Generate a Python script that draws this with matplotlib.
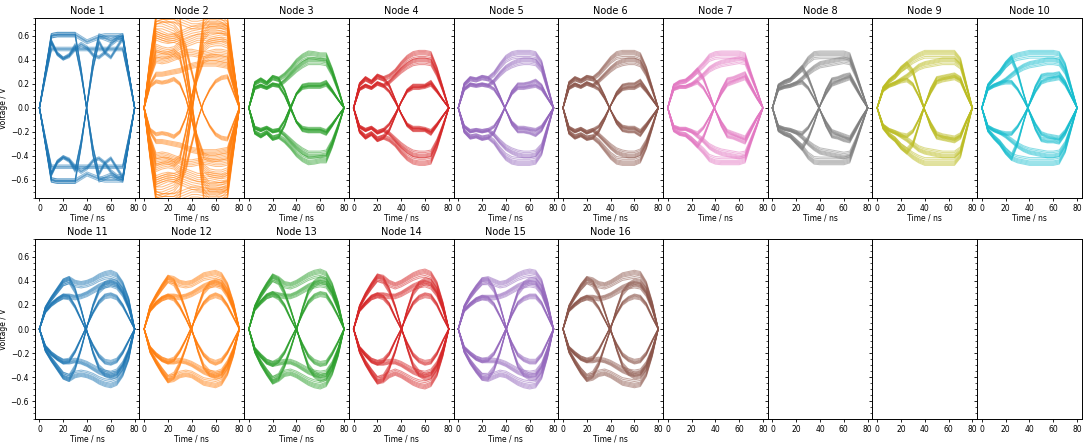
import numpy as np
import matplotlib
matplotlib.use("Agg")
import matplotlib.pyplot as plt
from matplotlib.ticker import AutoMinorLocator

# sample times of the traces (ns)
t_ns = [0, 5, 10, 15, 20, 25, 30, 35, 40, 45, 50, 55, 60, 65, 70, 75, 80]

# traces that start on a "1" (voltages at t_ns); the "0" traces are their mirror
node01 = [
    [0, 0.30, 0.60, 0.61, 0.61, 0.61, 0.61, 0.58, 0.55, 0.57, 0.59, 0.60, 0.60, 0.60, 0.60, 0.30, 0],
    [0, 0.28, 0.55, 0.45, 0.41, 0.43, 0.49, 0.53, 0.50, 0.44, 0.42, 0.46, 0.53, 0.57, 0.58, 0.29, 0],
    [0, 0.25, 0.49, 0.49, 0.49, 0.49, 0.49, 0.49, 0.49, 0.49, 0.49, 0.49, 0.49, 0.49, 0.49, 0.25, 0],
    [0, 0.30, 0.60, 0.61, 0.61, 0.61, 0.61, 0.32, -0.03, -0.39, -0.60, -0.58, -0.56, -0.58, -0.60, -0.30, 0],
    [0, 0.28, 0.55, 0.45, 0.41, 0.44, 0.52, 0.28, -0.02, -0.33, -0.55, -0.46, -0.42, -0.50, -0.58, -0.29, 0],
]
node02 = [
    [0, 0.40, 0.74, 0.76, 0.76, 0.76, 0.74, 0.72, 0.70, 0.70, 0.71, 0.72, 0.72, 0.71, 0.70, 0.35, 0],
    [0, 0.35, 0.62, 0.60, 0.58, 0.58, 0.60, 0.62, 0.64, 0.65, 0.66, 0.67, 0.67, 0.66, 0.64, 0.32, 0],
    [0, 0.30, 0.50, 0.48, 0.47, 0.48, 0.52, 0.54, 0.56, 0.58, 0.58, 0.57, 0.58, 0.59, 0.58, 0.30, 0],
    [0, 0.25, 0.40, 0.39, 0.40, 0.42, 0.44, 0.46, 0.46, 0.45, 0.44, 0.45, 0.46, 0.46, 0.45, 0.22, 0],
    [0, 0.20, 0.28, 0.28, 0.29, 0.30, 0.31, 0.33, 0.35, 0.36, 0.37, 0.37, 0.37, 0.36, 0.35, 0.18, 0],
    [0, 0.40, 0.74, 0.76, 0.76, 0.76, 0.72, 0.40, 0.05, -0.30, -0.60, -0.66, -0.66, -0.66, -0.65, -0.33, 0],
    [0, 0.33, 0.60, 0.58, 0.57, 0.58, 0.56, 0.30, 0.00, -0.30, -0.50, -0.54, -0.55, -0.55, -0.53, -0.27, 0],
    [0, 0.28, 0.45, 0.44, 0.44, 0.46, 0.42, 0.20, -0.08, -0.35, -0.72, -0.78, -0.78, -0.76, -0.72, -0.36, 0],
    [0, 0.18, 0.22, 0.21, 0.22, 0.24, 0.20, 0.08, -0.10, -0.25, -0.40, -0.42, -0.42, -0.41, -0.40, -0.20, 0],
    [0, 0.38, 0.70, 0.70, 0.68, 0.66, 0.60, 0.50, 0.30, 0.10, -0.05, -0.15, -0.22, -0.25, -0.26, -0.13, 0],
]
node03 = [
    [0, 0.21, 0.24, 0.21, 0.26, 0.245, 0.28, 0.33, 0.39, 0.43, 0.455, 0.45, 0.44, 0.44, 0.32, 0.17, 0],
    [0, 0.17, 0.19, 0.17, 0.20, 0.19, 0.23, 0.28, 0.33, 0.37, 0.40, 0.40, 0.40, 0.39, 0.29, 0.15, 0],
    [0, 0.21, 0.24, 0.21, 0.26, 0.245, 0.15, 0.01, -0.12, -0.19, -0.20, -0.20, -0.20, -0.22, -0.15, -0.07, 0],
    [0, 0.17, 0.19, 0.17, 0.20, 0.19, 0.11, -0.01, -0.12, -0.17, -0.18, -0.18, -0.18, -0.20, -0.14, -0.07, 0],
]
node04 = [
    [0, 0.20, 0.25, 0.22, 0.27, 0.25, 0.27, 0.31, 0.37, 0.42, 0.45, 0.46, 0.46, 0.45, 0.33, 0.17, 0],
    [0, 0.16, 0.19, 0.17, 0.21, 0.19, 0.22, 0.27, 0.32, 0.36, 0.39, 0.40, 0.40, 0.39, 0.29, 0.15, 0],
    [0, 0.20, 0.25, 0.22, 0.27, 0.25, 0.19, 0.07, -0.05, -0.15, -0.19, -0.19, -0.19, -0.22, -0.15, -0.07, 0],
    [0, 0.16, 0.19, 0.17, 0.21, 0.19, 0.14, 0.05, -0.05, -0.14, -0.17, -0.17, -0.18, -0.20, -0.14, -0.07, 0],
]
node05 = [
    [0, 0.20, 0.25, 0.24, 0.26, 0.25, 0.29, 0.36, 0.42, 0.45, 0.46, 0.46, 0.46, 0.45, 0.38, 0.19, 0],
    [0, 0.16, 0.20, 0.19, 0.20, 0.19, 0.23, 0.29, 0.34, 0.37, 0.39, 0.40, 0.40, 0.39, 0.33, 0.16, 0],
    [0, 0.20, 0.25, 0.24, 0.26, 0.25, 0.21, 0.10, -0.02, -0.14, -0.20, -0.20, -0.21, -0.23, -0.19, -0.09, 0],
    [0, 0.16, 0.20, 0.19, 0.20, 0.19, 0.16, 0.08, -0.02, -0.12, -0.17, -0.17, -0.18, -0.19, -0.16, -0.08, 0],
]
node06 = [
    [0, 0.21, 0.25, 0.23, 0.26, 0.25, 0.29, 0.35, 0.41, 0.45, 0.46, 0.46, 0.46, 0.44, 0.33, 0.17, 0],
    [0, 0.17, 0.20, 0.18, 0.21, 0.19, 0.23, 0.28, 0.33, 0.37, 0.39, 0.40, 0.40, 0.38, 0.29, 0.15, 0],
    [0, 0.21, 0.25, 0.23, 0.26, 0.25, 0.20, 0.10, -0.02, -0.13, -0.19, -0.20, -0.20, -0.23, -0.16, -0.08, 0],
    [0, 0.17, 0.20, 0.18, 0.21, 0.19, 0.16, 0.08, -0.02, -0.11, -0.16, -0.17, -0.17, -0.20, -0.14, -0.07, 0],
]
node07 = [
    [0, 0.19, 0.22, 0.23, 0.27, 0.32, 0.37, 0.43, 0.45, 0.455, 0.455, 0.455, 0.455, 0.44, 0.29, 0.15, 0],
    [0, 0.16, 0.18, 0.18, 0.20, 0.24, 0.28, 0.33, 0.36, 0.38, 0.39, 0.40, 0.41, 0.40, 0.27, 0.14, 0],
    [0, 0.19, 0.22, 0.23, 0.27, 0.32, 0.25, 0.12, -0.02, -0.15, -0.24, -0.25, -0.27, -0.29, -0.19, -0.09, 0],
    [0, 0.16, 0.18, 0.18, 0.20, 0.22, 0.17, 0.08, -0.02, -0.12, -0.20, -0.22, -0.24, -0.26, -0.17, -0.08, 0],
]
node08 = [
    [0, 0.19, 0.22, 0.24, 0.29, 0.34, 0.41, 0.45, 0.455, 0.455, 0.455, 0.455, 0.455, 0.44, 0.30, 0.15, 0],
    [0, 0.16, 0.18, 0.19, 0.21, 0.25, 0.30, 0.34, 0.37, 0.38, 0.39, 0.40, 0.41, 0.40, 0.28, 0.14, 0],
    [0, 0.19, 0.22, 0.24, 0.29, 0.34, 0.26, 0.13, -0.02, -0.15, -0.24, -0.25, -0.27, -0.28, -0.19, -0.09, 0],
    [0, 0.16, 0.18, 0.19, 0.21, 0.22, 0.17, 0.08, -0.02, -0.12, -0.20, -0.22, -0.24, -0.26, -0.17, -0.08, 0],
]
node09 = [
    [0, 0.17, 0.23, 0.27, 0.33, 0.37, 0.41, 0.44, 0.46, 0.46, 0.46, 0.46, 0.46, 0.46, 0.40, 0.20, 0],
    [0, 0.15, 0.19, 0.21, 0.24, 0.27, 0.31, 0.35, 0.37, 0.38, 0.39, 0.40, 0.40, 0.40, 0.36, 0.18, 0],
    [0, 0.17, 0.23, 0.27, 0.33, 0.37, 0.31, 0.15, -0.02, -0.16, -0.25, -0.26, -0.27, -0.28, -0.25, -0.12, 0],
    [0, 0.15, 0.19, 0.21, 0.23, 0.24, 0.20, 0.10, -0.02, -0.13, -0.22, -0.24, -0.25, -0.26, -0.23, -0.11, 0],
]
node10 = [
    [0, 0.19, 0.25, 0.30, 0.37, 0.42, 0.44, 0.45, 0.46, 0.46, 0.46, 0.46, 0.46, 0.45, 0.36, 0.18, 0],
    [0, 0.16, 0.19, 0.21, 0.24, 0.28, 0.32, 0.35, 0.37, 0.38, 0.39, 0.40, 0.40, 0.39, 0.31, 0.16, 0],
    [0, 0.19, 0.25, 0.30, 0.37, 0.42, 0.30, 0.12, -0.04, -0.18, -0.27, -0.28, -0.28, -0.29, -0.22, -0.11, 0],
    [0, 0.16, 0.19, 0.21, 0.22, 0.22, 0.16, 0.07, -0.03, -0.14, -0.22, -0.24, -0.25, -0.26, -0.20, -0.10, 0],
]
node11 = [
    [0, 0.18, 0.26, 0.33, 0.40, 0.42, 0.39, 0.38, 0.39, 0.41, 0.44, 0.46, 0.47, 0.45, 0.38, 0.25, 0],
    [0, 0.15, 0.21, 0.25, 0.28, 0.28, 0.27, 0.28, 0.30, 0.33, 0.36, 0.38, 0.39, 0.37, 0.30, 0.18, 0],
    [0, 0.18, 0.26, 0.33, 0.40, 0.42, 0.33, 0.17, -0.02, -0.20, -0.33, -0.38, -0.40, -0.39, -0.33, -0.20, 0],
    [0, 0.15, 0.21, 0.25, 0.28, 0.27, 0.19, 0.08, -0.03, -0.14, -0.23, -0.28, -0.29, -0.27, -0.20, -0.10, 0],
]
node12 = [
    [0, 0.19, 0.28, 0.36, 0.43, 0.42, 0.39, 0.38, 0.39, 0.42, 0.45, 0.46, 0.47, 0.45, 0.37, 0.22, 0],
    [0, 0.16, 0.22, 0.26, 0.28, 0.28, 0.27, 0.28, 0.30, 0.33, 0.36, 0.38, 0.39, 0.37, 0.29, 0.17, 0],
    [0, 0.19, 0.28, 0.36, 0.43, 0.40, 0.30, 0.16, 0.00, -0.18, -0.32, -0.38, -0.40, -0.39, -0.32, -0.19, 0],
    [0, 0.16, 0.22, 0.26, 0.28, 0.26, 0.19, 0.09, -0.02, -0.13, -0.22, -0.27, -0.29, -0.27, -0.20, -0.10, 0],
]
node13 = [
    [0, 0.19, 0.29, 0.37, 0.44, 0.42, 0.38, 0.37, 0.39, 0.42, 0.45, 0.47, 0.48, 0.46, 0.37, 0.22, 0],
    [0, 0.17, 0.23, 0.28, 0.30, 0.29, 0.28, 0.28, 0.30, 0.33, 0.36, 0.38, 0.39, 0.38, 0.30, 0.17, 0],
    [0, 0.19, 0.29, 0.37, 0.44, 0.41, 0.31, 0.17, 0.01, -0.17, -0.32, -0.39, -0.42, -0.41, -0.33, -0.19, 0],
    [0, 0.17, 0.23, 0.28, 0.30, 0.27, 0.20, 0.09, -0.01, -0.13, -0.23, -0.28, -0.30, -0.29, -0.21, -0.11, 0],
]
node14 = [
    [0, 0.19, 0.29, 0.37, 0.44, 0.43, 0.39, 0.37, 0.39, 0.42, 0.45, 0.47, 0.48, 0.46, 0.38, 0.22, 0],
    [0, 0.16, 0.22, 0.27, 0.29, 0.29, 0.28, 0.28, 0.30, 0.33, 0.36, 0.38, 0.39, 0.37, 0.30, 0.17, 0],
    [0, 0.19, 0.29, 0.37, 0.44, 0.42, 0.33, 0.19, 0.02, -0.16, -0.31, -0.38, -0.41, -0.40, -0.33, -0.19, 0],
    [0, 0.16, 0.22, 0.27, 0.29, 0.27, 0.21, 0.10, 0.00, -0.12, -0.22, -0.27, -0.29, -0.28, -0.21, -0.10, 0],
]
node15 = [
    [0, 0.19, 0.28, 0.35, 0.41, 0.42, 0.40, 0.38, 0.39, 0.42, 0.45, 0.47, 0.48, 0.47, 0.40, 0.23, 0],
    [0, 0.16, 0.21, 0.25, 0.27, 0.27, 0.27, 0.28, 0.30, 0.33, 0.36, 0.38, 0.39, 0.38, 0.31, 0.17, 0],
    [0, 0.19, 0.28, 0.35, 0.41, 0.41, 0.34, 0.20, 0.02, -0.16, -0.31, -0.38, -0.41, -0.41, -0.35, -0.20, 0],
    [0, 0.16, 0.21, 0.25, 0.27, 0.26, 0.21, 0.11, 0.00, -0.12, -0.22, -0.26, -0.28, -0.28, -0.22, -0.11, 0],
]
node16 = [
    [0, 0.19, 0.28, 0.36, 0.42, 0.41, 0.38, 0.37, 0.39, 0.42, 0.45, 0.46, 0.47, 0.46, 0.38, 0.22, 0],
    [0, 0.16, 0.21, 0.25, 0.27, 0.27, 0.26, 0.27, 0.29, 0.32, 0.35, 0.37, 0.38, 0.37, 0.30, 0.17, 0],
    [0, 0.19, 0.28, 0.36, 0.42, 0.39, 0.30, 0.15, 0.00, -0.17, -0.31, -0.37, -0.40, -0.39, -0.33, -0.19, 0],
    [0, 0.16, 0.21, 0.25, 0.27, 0.25, 0.18, 0.08, -0.02, -0.13, -0.22, -0.26, -0.28, -0.27, -0.21, -0.10, 0],
]

nodes = [node01, node02, node03, node04, node05, node06, node07, node08,
         node09, node10, node11, node12, node13, node14, node15, node16]

# bundle width of each node (relative amplitude of the traces in a bundle)
spread_n1 = [0.97, 0.99, 1.0, 1.01, 1.03]
spread_n2 = [0.94, 0.97, 1.0, 1.03, 1.06]
spread_eye = [0.9, 0.93, 0.96, 0.98, 1.0, 1.02, 1.04]
spread = [spread_n1, spread_n2] + [spread_eye] * 14

fig, axes = plt.subplots(2, 10, figsize=(10.84, 4.44), dpi=100, sharey=True)
fig.subplots_adjust(left=0.032, right=0.998, top=0.96, bottom=0.056,
                    wspace=0, hspace=0.227)

t = np.array(t_ns)
for i, ax in enumerate(axes.flat):
    if i < len(nodes):
        col = f"C{i % 10}"
        for tr in nodes[i]:
            v = np.array(tr)
            for s in spread[i]:
                for sign in (1, -1):
                    ax.plot(t, sign * s * v, color=col, lw=0.75, alpha=0.5)
        ax.set_title(f"Node {i + 1}", fontsize=7, pad=3)
        ax.set_xlabel("Time / ns", fontsize=5.5, labelpad=0.5)
    ax.set_xlim(-4, 84)
    ax.set_xticks([0, 20, 40, 60, 80])
    ax.set_ylim(-0.75, 0.75)
    ax.set_yticks([-0.6, -0.4, -0.2, 0.0, 0.2, 0.4, 0.6])
    ax.yaxis.set_minor_locator(AutoMinorLocator(4))
    ax.tick_params(labelsize=5.5, length=2.5, width=0.6, pad=1.5)
    ax.tick_params(which="minor", length=1.5, width=0.5)
    for sp in ax.spines.values():
        sp.set_linewidth(0.7)

for ax in axes[:, 0]:
    ax.set_ylabel("Voltage / V", fontsize=5.5, labelpad=2)

fig.savefig("out.png", dpi=100)
